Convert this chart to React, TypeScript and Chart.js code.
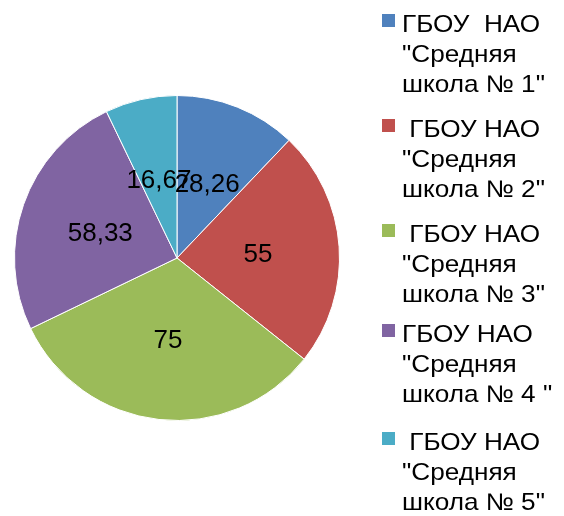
import React, { useEffect, useRef } from "react";
import { Chart, registerables } from "chart.js";

Chart.register(...registerables);

const schoolLabels: string[][] = [
  ["ГБОУ  НАО", "\"Средняя", "школа № 1\""],
  [" ГБОУ НАО", "\"Средняя", "школа № 2\""],
  [" ГБОУ НАО", "\"Средняя", "школа № 3\""],
  ["ГБОУ НАО", "\"Средняя", "школа № 4 \""],
  [" ГБОУ НАО", "\"Средняя", "школа № 5\""],
];
const values = [28.26, 55, 75, 58.33, 16.67];
const valueLabels = ["28,26", "55", "75", "58,33", "16,67"];
const colors = ["#4F81BD", "#C0504D", "#9BBB59", "#8064A2", "#4BACC6"];

const FONT = "'Liberation Sans', Arial, sans-serif";

const dataLabelPlugin = {
  id: "dataLabels",
  afterDatasetsDraw(chart: any) {
    const ctx = chart.ctx;
    const meta = chart.getDatasetMeta(0);
    ctx.save();
    ctx.font = `26px ${FONT}`;
    ctx.fillStyle = "#000000";
    ctx.textAlign = "center";
    ctx.textBaseline = "alphabetic";
    meta.data.forEach((arc: any, i: number) => {
      const p = arc.getProps(["x", "y", "startAngle", "endAngle", "outerRadius"], true);
      const mid = (p.startAngle + p.endAngle) / 2;
      const r = p.outerRadius * 0.5;
      const cx = p.x + Math.cos(mid) * r;
      const cy = p.y + Math.sin(mid) * r;
      ctx.fillText(valueLabels[i], cx, cy + 9.5);
    });
    ctx.restore();
  },
};

const legendPlugin = {
  id: "customLegend",
  afterDraw(chart: any) {
    const ctx = chart.ctx;
    const baselines = [32, 137, 242, 342, 450];
    const lineGap = 30;
    ctx.save();
    ctx.font = `24px ${FONT}`;
    ctx.textAlign = "left";
    ctx.textBaseline = "alphabetic";
    schoolLabels.forEach((lines, i) => {
      const b = baselines[i];
      ctx.fillStyle = colors[i];
      ctx.fillRect(382, b - 18, 13, 13);
      ctx.fillStyle = "#000000";
      lines.forEach((line, j) => {
        ctx.save();
        ctx.translate(402, b + j * lineGap);
        ctx.scale(1.09, 1);
        ctx.fillText(line, 0, 0);
        ctx.restore();
      });
    });
    ctx.restore();
  },
};

export default function App() {
  const canvasRef = useRef<HTMLCanvasElement | null>(null);

  useEffect(() => {
    if (!canvasRef.current) return;
    const chart = new Chart(canvasRef.current, {
      type: "pie",
      data: {
        labels: schoolLabels.map((l) => l.join(" ")),
        datasets: [
          {
            data: values,
            backgroundColor: colors,
            borderColor: "#ffffff",
            borderWidth: 1,
          },
        ],
      },
      options: {
        responsive: false,
        animation: false,
        layout: { padding: { left: 14, top: 95, right: 224, bottom: 95 } },
        plugins: {
          legend: { display: false },
          tooltip: { enabled: false },
        },
      },
      plugins: [dataLabelPlugin, legendPlugin],
    });
    return () => chart.destroy();
  }, []);

  return (
    <div style={{ position: "absolute", left: 0, top: 0, width: 564, height: 516, background: "#ffffff" }}>
      <canvas ref={canvasRef} width={564} height={516} />
    </div>
  );
}
